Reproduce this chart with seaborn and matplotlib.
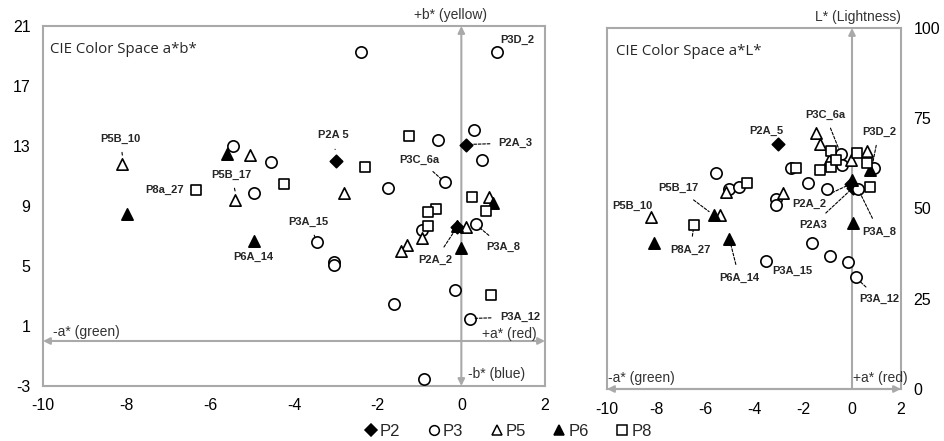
import matplotlib
matplotlib.use("Agg")
import matplotlib.pyplot as plt
import seaborn as sns
import pandas as pd
from matplotlib.lines import Line2D

# ---------------- data: CIE a*b* panel ----------------
groups = ["P2", "P3", "P5", "P6", "P8"]

ab_P2_a = [-3.0, 0.1, -0.1]
ab_P2_b = [12.0, 13.1, 7.6]
ab_P3_a = [-2.4, 0.85, 0.3, -0.55, 0.5, -0.4, -1.75, -0.95, 0.35, -3.45, -3.05, -3.05,
           -0.15, -1.6, 0.2, -0.9, -5.45, -4.55, -4.95]
ab_P3_b = [19.3, 19.3, 14.1, 13.4, 12.1, 10.6, 10.2, 7.4, 7.8, 6.6, 5.3, 5.1,
           3.4, 2.5, 1.5, -2.5, 13.0, 11.95, 9.9]
ab_P5_a = [-8.1, -5.05, -5.4, -2.8, -0.95, -1.3, -1.45, 0.1, 0.65]
ab_P5_b = [11.8, 12.4, 9.4, 9.9, 6.9, 6.4, 6.0, 7.6, 9.6]
ab_P6_a = [-8.0, -5.6, -4.95, 0.0, -0.1, 0.75]
ab_P6_b = [8.5, 12.5, 6.7, 6.2, 7.7, 9.2]
ab_P8_a = [-6.35, -4.25, -1.25, -2.3, 0.25, 0.6, -0.6, -0.8, -0.8, 0.7]
ab_P8_b = [10.1, 10.5, 13.7, 11.6, 9.6, 8.7, 8.8, 8.6, 7.7, 3.1]

# ---------------- data: CIE a*L* panel ----------------
aL_P2_a = [-3.0, -0.05, 0.05]
aL_P2_L = [68.0, 56.8, 55.8]
aL_P3_a = [-5.55, -5.0, -4.6, -3.1, -3.1, -1.8, -1.0, -1.65, -0.9, -0.15, 0.15, -3.5,
           -0.45, -0.4, 0.9, 0.25, -2.5]
aL_P3_L = [59.9, 55.3, 56.0, 52.5, 51.0, 57.1, 55.3, 40.4, 36.8, 35.3, 30.9, 35.5,
           65.0, 62.0, 61.1, 55.4, 61.1]
aL_P5_a = [-8.2, -5.4, -5.15, -2.8, -1.45, -1.3, -0.95, -0.05, 0.6]
aL_P5_L = [47.6, 48.2, 54.5, 54.2, 71.0, 67.8, 63.4, 63.4, 66.0]
aL_P6_a = [-8.1, -5.65, -5.0, 0.05, 0.75, 0.0]
aL_P6_L = [40.5, 48.2, 41.5, 45.9, 60.7, 57.8]
aL_P8_a = [-6.45, -4.3, -2.3, -0.85, -1.3, -0.85, -0.65, 0.2, 0.6, 0.75]
aL_P8_L = [45.4, 57.1, 61.1, 66.0, 60.8, 61.6, 63.4, 65.3, 62.7, 55.9]

ab_ticks_x = [-10, -8, -6, -4, -2, 0, 2]
ab_ticks_y = [-3, 1, 5, 9, 13, 17, 21]
aL_ticks_y = [0, 25, 50, 75, 100]

# sample labels: (text, label position, point)
ab_labels = [
    ("P5B_10", (-8.15, 13.5), (-8.1, 12.3)),
    ("P8a_27", (-7.1, 10.1), None),
    ("P5B_17", (-5.5, 11.1), (-5.4, 9.9)),
    ("P6A_14", (-4.98, 5.6), None),
    ("P2A 5", (-3.06, 13.7), (-3.0, 12.4)),
    ("P3A_15", (-3.65, 7.95), (-3.45, 6.6)),
    ("P3C_6a", (-1.0, 12.1), (-0.4, 10.6)),
    ("P2A_3", (1.3, 13.2), (0.1, 13.1)),
    ("P3D_2", (1.35, 20.1), None),
    ("P3A_8", (1.0, 6.25), (0.33, 7.8)),
    ("P2A_2", (-0.62, 5.4), (-0.1, 7.6)),
    ("P3A_12", (1.4, 1.6), (0.2, 1.5)),
]
aL_labels = [
    ("P2A_5", (-3.5, 71.5), None),
    ("P3C_6a", (-1.1, 76.0), (-0.45, 65.0)),
    ("P3D_2", (1.1, 71.3), (0.8, 61.0)),
    ("P5B_17", (-7.1, 55.6), (-5.65, 48.2)),
    ("P5B_10", (-8.95, 50.6), None),
    ("P8A_27", (-6.6, 38.5), (-6.45, 45.4)),
    ("P6A_14", (-4.6, 30.7), (-5.0, 41.5)),
    ("P3A_15", (-2.45, 32.6), None),
    ("P2A_2", (-1.75, 51.4), (-0.05, 56.8)),
    ("P2A3", (-1.6, 45.4), (0.05, 55.8)),
    ("P3A_8", (1.1, 43.6), (0.25, 55.4)),
    ("P3A_12", (1.1, 24.9), (0.15, 30.9)),
]

def make_df(pairs):
    rows = []
    for g, (xs, ys) in zip(groups, pairs):
        for x, y in zip(xs, ys):
            rows.append({"group": g, "x": x, "y": y})
    return pd.DataFrame(rows)

df_ab = make_df([(ab_P2_a, ab_P2_b), (ab_P3_a, ab_P3_b), (ab_P5_a, ab_P5_b),
                 (ab_P6_a, ab_P6_b), (ab_P8_a, ab_P8_b)])
df_aL = make_df([(aL_P2_a, aL_P2_L), (aL_P3_a, aL_P3_L), (aL_P5_a, aL_P5_L),
                 (aL_P6_a, aL_P6_L), (aL_P8_a, aL_P8_L)])

# ---------------- style ----------------
sns.set_theme(style="white")
plt.rcParams["font.family"] = ["Liberation Sans", "DejaVu Sans"]
plt.rcParams["axes.unicode_minus"] = False

GRAY = "#a9a9a9"
TXT = "#333333"
styles = {
    "P2": dict(marker="D", fc="black", size=40),
    "P3": dict(marker="o", fc="white", size=66),
    "P5": dict(marker="^", fc="white", size=66),
    "P6": dict(marker="^", fc="black", size=66),
    "P8": dict(marker="s", fc="white", size=60),
}

fig = plt.figure(figsize=(9.45, 4.41), dpi=100)
ax1 = fig.add_axes([43 / 945, 55 / 441, 502 / 945, 360 / 441])
ax2 = fig.add_axes([607 / 945, 52 / 441, 294 / 945, 361 / 441])


def draw_points(ax, df):
    for g in groups:
        st = styles[g]
        sub = df[df["group"] == g]
        sns.scatterplot(data=sub, x="x", y="y", ax=ax, marker=st["marker"],
                        s=st["size"], color=st["fc"], edgecolor="black",
                        linewidth=1.2, legend=False, zorder=4)


def draw_labels(ax, labels):
    for txt, tpos, ppos in labels:
        if ppos is None:
            ax.text(tpos[0], tpos[1], txt, fontsize=8, fontweight="bold",
                    ha="center", va="center", zorder=6)
        else:
            ax.annotate(txt, xy=ppos, xytext=tpos, fontsize=8, fontweight="bold",
                        ha="center", va="center", zorder=6,
                        arrowprops=dict(arrowstyle="-", linestyle=(0, (2.5, 1.5)),
                                        lw=0.8, color="black", shrinkA=4, shrinkB=4))


def frame(ax):
    for sp in ax.spines.values():
        sp.set_color(GRAY)
        sp.set_linewidth(1.5)
    ax.tick_params(length=0, labelsize=11.5, colors="black")
    ax.set_xlabel("")
    ax.set_ylabel("")


def arrow(ax, start, end, both=True):
    ax.annotate("", xy=end, xytext=start, annotation_clip=False, zorder=2,
                arrowprops=dict(arrowstyle="<|-|>" if both else "-|>", color=GRAY,
                                lw=1.5, mutation_scale=10, shrinkA=0, shrinkB=0))


# ---------- left panel ----------
draw_points(ax1, df_ab)
ax1.set_xlim(-10, 2)
ax1.set_ylim(-3, 21)
ax1.set_xticks(ab_ticks_x)
ax1.set_yticks(ab_ticks_y)
frame(ax1)
ax1.tick_params(axis="x", pad=9)
ax1.tick_params(axis="y", pad=9)
arrow(ax1, (-10, 0), (2, 0))
arrow(ax1, (0, -3), (0, 21))
ax1.text(0.014, 0.955, "CIE Color Space a*b*", transform=ax1.transAxes, fontsize=10.8,
         family=["Open Sans", "DejaVu Sans"], ha="left", va="top")
ax1.text(-0.25, 21.3, "+b* (yellow)", fontsize=10, color=TXT, ha="center", va="bottom")
ax1.text(0.15, -2.2, "-b* (blue)", fontsize=10, color=TXT, ha="left", va="center")
ax1.text(-9.75, 0.15, "-a* (green)", fontsize=10, color=TXT, ha="left", va="bottom")
ax1.text(0.5, 0.0, "+a* (red)", fontsize=10, color=TXT, ha="left", va="bottom")
draw_labels(ax1, ab_labels)

# ---------- right panel ----------
draw_points(ax2, df_aL)
ax2.set_xlim(-10, 2)
ax2.set_ylim(0, 100)
ax2.set_xticks(ab_ticks_x)
ax2.set_yticks(aL_ticks_y)
frame(ax2)
ax2.yaxis.tick_right()
ax2.tick_params(axis="x", pad=9)
ax2.tick_params(axis="y", pad=9)
arrow(ax2, (-10, 0), (2, 0))
arrow(ax2, (0, 0), (0, 100), both=False)
ax2.text(0.03, 0.955, "CIE Color Space a*L*", transform=ax2.transAxes, fontsize=10.8,
         family=["Open Sans", "DejaVu Sans"], ha="left", va="top")
ax2.text(2, 101, "L* (Lightness)", fontsize=10, color=TXT, ha="right", va="bottom")
ax2.text(-9.95, 1.0, "-a* (green)", fontsize=10, color=TXT, ha="left", va="bottom")
ax2.text(0.05, 1.0, "+a* (red)", fontsize=10, color=TXT, ha="left", va="bottom")
draw_labels(ax2, aL_labels)

# ---------- legend ----------
handles = [Line2D([], [], linestyle="none", marker=styles[g]["marker"],
                  markerfacecolor=styles[g]["fc"], markeredgecolor="black",
                  markeredgewidth=1.1, markersize=7 if g != "P2" else 6, label=g)
           for g in groups]
fig.legend(handles=handles, loc="center", bbox_to_anchor=(508 / 945, 0.022), ncol=5,
           frameon=False, fontsize=12, handlelength=0.8, handletextpad=0.15,
           columnspacing=1.6, borderpad=0)

fig.savefig("out.png", dpi=100)
